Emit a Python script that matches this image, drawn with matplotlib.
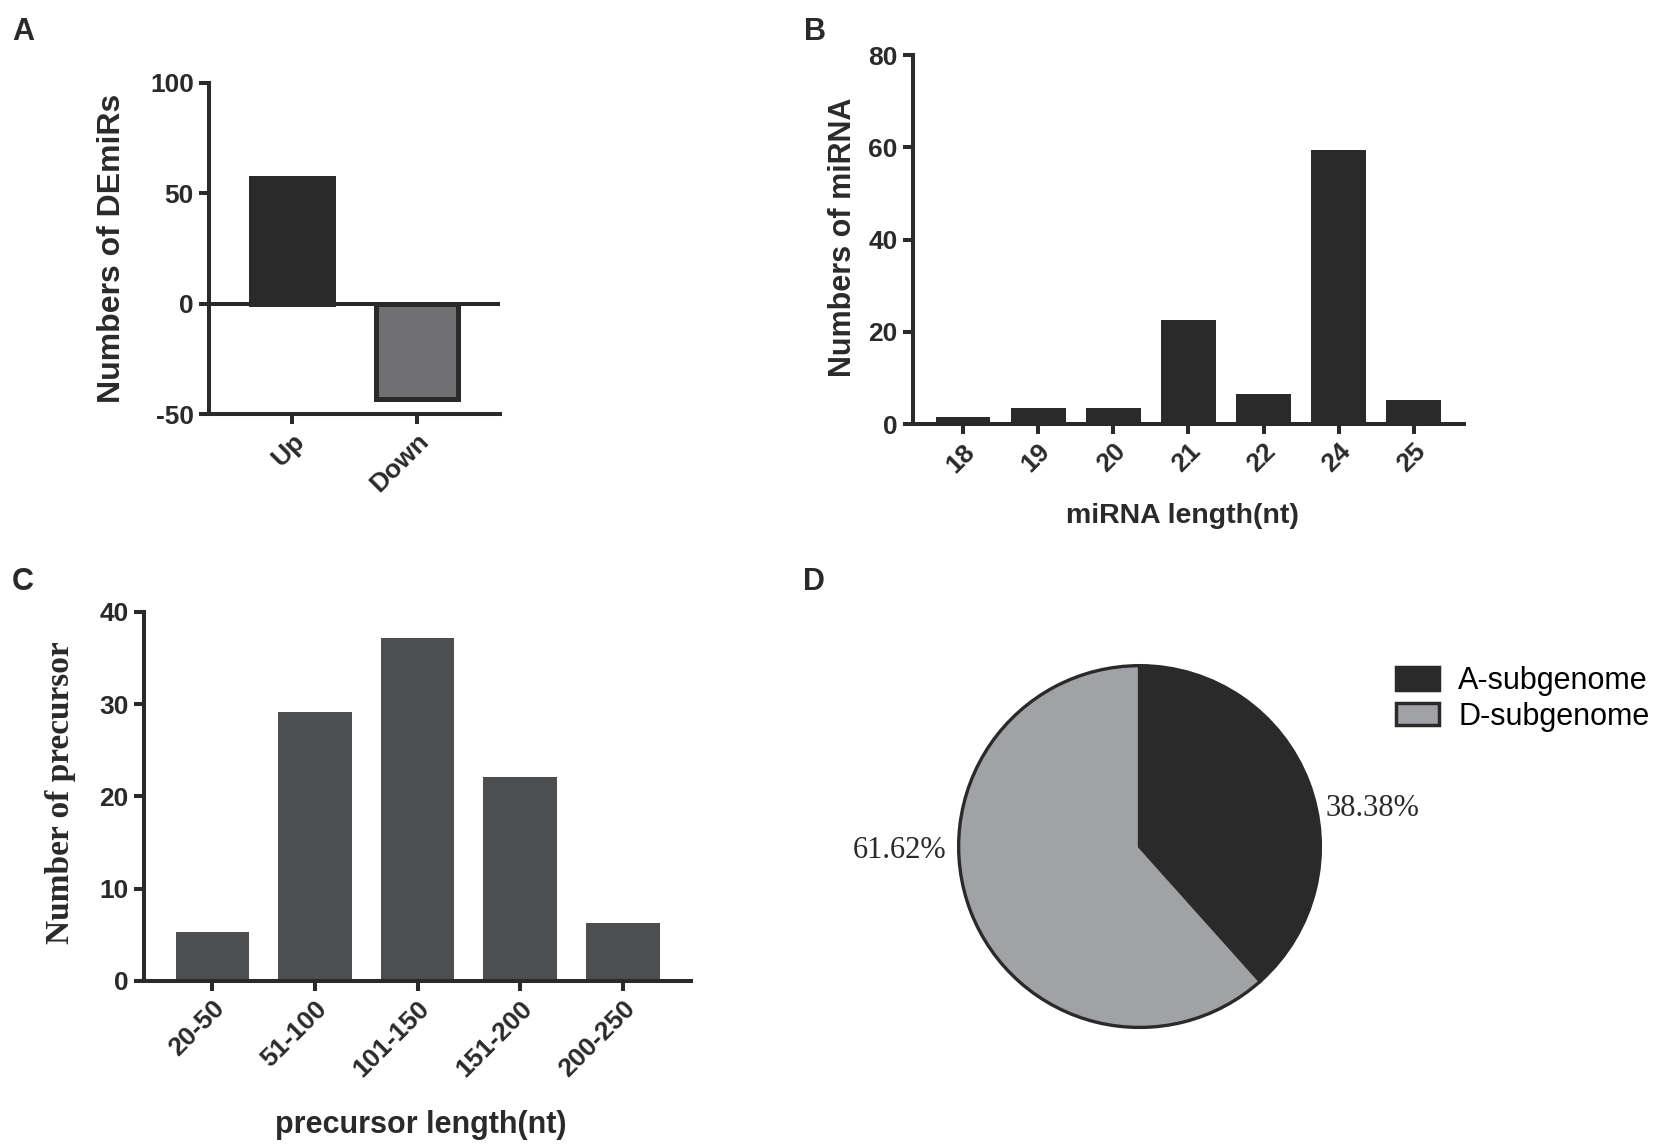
import matplotlib
matplotlib.use('Agg')
import matplotlib.pyplot as plt
from matplotlib.patches import Patch

# data
de_groups = ['Up', 'Down']
de_counts = [57, -43]

mirna_lengths = ['18', '19', '20', '21', '22', '24', '25']
mirna_counts = [1.5, 3.5, 3.5, 22.5, 6.4, 59.4, 5.3]

precursor_bins = ['20-50', '51-100', '101-150', '151-200', '200-250']
precursor_counts = [5.3, 29.2, 37.2, 22.1, 6.3]

subgenomes = ['A-subgenome', 'D-subgenome']
subgenome_pct = [38.38, 61.62]

dark = '#2b2a2b'
down_grey = '#707072'
bar_grey = '#4d4e50'
pie_grey = '#a1a2a5'

plt.rcParams['font.family'] = ['Liberation Sans', 'DejaVu Sans']
plt.rcParams['font.weight'] = 'bold'
plt.rcParams['axes.unicode_minus'] = False

fig = plt.figure(figsize=(16.54, 11.46), dpi=100)

def style(ax):
    for s in ['top', 'right']:
        ax.spines[s].set_visible(False)
    for s in ['left', 'bottom']:
        ax.spines[s].set_linewidth(2.9)
        ax.spines[s].set_color(dark)
    ax.tick_params(width=2.9, length=7, color=dark, labelsize=19, pad=4, labelcolor=dark)
    for lab in ax.get_yticklabels():
        lab.set_fontweight('bold')

def rot_labels(ax, labels):
    ax.set_xticks(range(len(labels)))
    ax.set_xticklabels(labels, rotation=45, ha='right', rotation_mode='anchor',
                       fontweight='bold', fontsize=19, color=dark)

# panel A
axA = fig.add_axes([0.1264, 0.6387, 0.1759, 0.2891])
xa = range(len(de_groups))
axA.bar(xa, de_counts, width=0.66, color=[dark, down_grey], edgecolor=dark, linewidth=3.6)
axA.axhline(0, color=dark, lw=2.9)
axA.set_xlim(-0.665, 1.665)
axA.set_ylim(-50, 100)
axA.set_yticks([-50, 0, 50, 100])
style(axA)
rot_labels(axA, de_groups)
axA.set_ylabel('Numbers of DEmiRs', fontsize=23, fontweight='bold', color=dark)
axA.yaxis.set_label_coords(-0.282, 0.501)

# panel B
axB = fig.add_axes([0.552, 0.630, 0.333, 0.322])
axB.bar(range(len(mirna_lengths)), mirna_counts, width=0.73, color=dark)
axB.set_xlim(-0.665, 6.665)
axB.set_ylim(0, 80)
axB.set_yticks([0, 20, 40, 60, 80])
style(axB)
rot_labels(axB, mirna_lengths)
axB.set_ylabel('Numbers of miRNA', fontsize=22, fontweight='bold', color=dark)
axB.yaxis.set_label_coords(-0.10, 0.507)
axB.set_xlabel('miRNA length(nt)', fontsize=20.5, fontweight='bold', color=dark)
axB.xaxis.set_label_coords(0.49, -0.215)

# panel C
axC = fig.add_axes([0.0871, 0.144, 0.3307, 0.322])
axC.bar(range(len(precursor_bins)), precursor_counts, width=0.72, color=bar_grey)
axC.set_xlim(-0.667, 4.667)
axC.set_ylim(0, 40)
axC.set_yticks([0, 10, 20, 30, 40])
style(axC)
rot_labels(axC, precursor_bins)
axC.set_ylabel('Number of precursor', fontsize=24, fontweight='bold', color=dark,
               family=['Liberation Serif', 'DejaVu Serif'])
axC.yaxis.set_label_coords(-0.125, 0.509)
axC.set_xlabel('precursor length(nt)', fontsize=22, fontweight='bold', color=dark)
axC.xaxis.set_label_coords(0.505, -0.35)

# panel D
axD = fig.add_axes([0.5774, 0.1003, 0.2231, 0.322])
axD.pie(subgenome_pct, colors=[dark, pie_grey], startangle=90, counterclock=False,
        radius=1, wedgeprops=dict(edgecolor=dark, linewidth=2.4))
axD.set_xlim(-1.02, 1.02)
axD.set_ylim(-1.02, 1.02)
axD.text(1.03, 0.21, '%.2f%%' % subgenome_pct[0], ha='left', va='center', fontsize=22,
         fontweight='normal', family=['Liberation Serif', 'DejaVu Serif'], color=dark)
axD.text(-1.07, -0.02, '%.2f%%' % subgenome_pct[1], ha='right', va='center', fontsize=22,
         fontweight='normal', family=['Liberation Serif', 'DejaVu Serif'], color=dark)

handles = [Patch(facecolor=dark, edgecolor=dark, linewidth=2.5),
           Patch(facecolor=pie_grey, edgecolor=dark, linewidth=2.5)]
fig.legend(handles, subgenomes, loc='upper left', bbox_to_anchor=(1396 / 1654, 1 - 666 / 1146),
           frameon=False, prop={'family': 'Liberation Sans', 'size': 22, 'weight': 'normal'},
           handlelength=1.41, handleheight=0.75, handletextpad=0.62, labelspacing=0.18,
           borderpad=0, borderaxespad=0)

# panel letters
for letter, (px, py) in zip('ABCD', [(23.5, 32), (815, 32), (23, 582), (814, 582)]):
    fig.text(px / 1654, 1 - py / 1146, letter, ha='center', va='center',
             fontsize=22, fontweight='bold', color=dark)

fig.savefig('out.png', dpi=100, facecolor='white')
